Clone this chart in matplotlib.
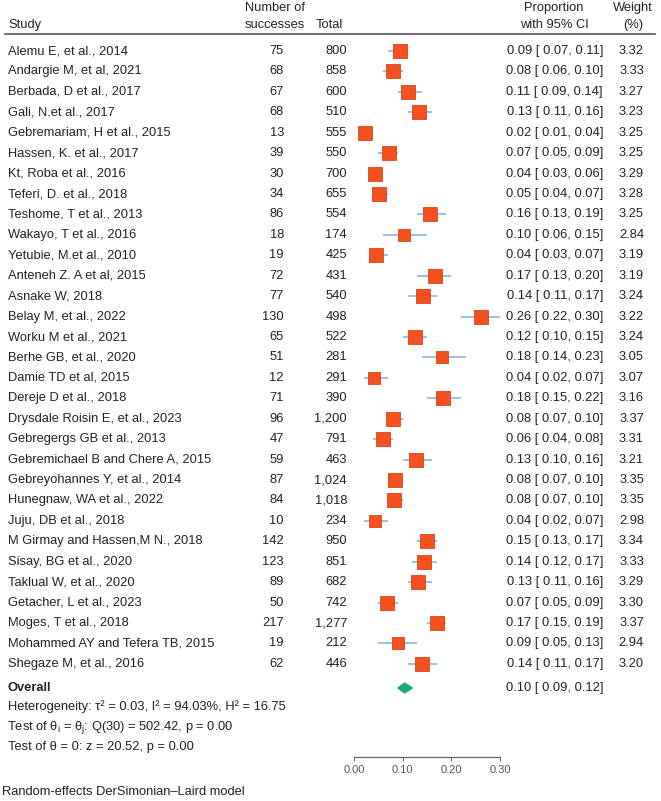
import matplotlib
matplotlib.use("Agg")
import matplotlib.pyplot as plt
import numpy as np

plt.rcParams["font.family"] = ["Liberation Sans", "DejaVu Sans"]
plt.rcParams["mathtext.fontset"] = "custom"
plt.rcParams["mathtext.rm"] = "Liberation Sans"
plt.rcParams["mathtext.it"] = "Liberation Sans"

studies = [
    "Alemu E, et al., 2014", "Andargie M, et al, 2021", "Berbada, D et al., 2017",
    "Gali, N.et al., 2017", "Gebremariam, H et al., 2015", "Hassen, K. et al., 2017",
    "Kt, Roba et al., 2016", "Teferi, D. et al., 2018", "Teshome, T et al., 2013",
    "Wakayo, T et al., 2016", "Yetubie, M.et al., 2010", "Anteneh Z. A et al, 2015",
    "Asnake W, 2018", "Belay M, et al., 2022", "Worku M et al., 2021",
    "Berhe GB, et al., 2020", "Damie TD et al, 2015", "Dereje D et al., 2018",
    "Drysdale Roisin E, et al., 2023", "Gebregergs GB et al., 2013",
    "Gebremichael B and Chere A, 2015", "Gebreyohannes Y, et al., 2014",
    "Hunegnaw, WA et al., 2022", "Juju, DB et al., 2018", "M Girmay and Hassen,M N., 2018",
    "Sisay, BG et al., 2020", "Taklual W, et al., 2020", "Getacher, L et al., 2023",
    "Moges, T et al., 2018", "Mohammed AY and Tefera TB, 2015", "Shegaze M, et al., 2016",
]
successes = [75, 68, 67, 68, 13, 39, 30, 34, 86, 18, 19, 72, 77, 130, 65, 51, 12, 71,
             96, 47, 59, 87, 84, 10, 142, 123, 89, 50, 217, 19, 62]
totals = [800, 858, 600, 510, 555, 550, 700, 655, 554, 174, 425, 431, 540, 498, 522, 281,
          291, 390, 1200, 791, 463, 1024, 1018, 234, 950, 851, 682, 742, 1277, 212, 446]
prop = [0.09, 0.08, 0.11, 0.13, 0.02, 0.07, 0.04, 0.05, 0.16, 0.10, 0.04, 0.17, 0.14, 0.26,
        0.12, 0.18, 0.04, 0.18, 0.08, 0.06, 0.13, 0.08, 0.08, 0.04, 0.15, 0.14, 0.13, 0.07,
        0.17, 0.09, 0.14]
ci_lo = [0.07, 0.06, 0.09, 0.11, 0.01, 0.05, 0.03, 0.04, 0.13, 0.06, 0.03, 0.13, 0.11, 0.22,
         0.10, 0.14, 0.02, 0.15, 0.07, 0.04, 0.10, 0.07, 0.07, 0.02, 0.13, 0.12, 0.11, 0.05,
         0.15, 0.05, 0.11]
ci_hi = [0.11, 0.10, 0.14, 0.16, 0.04, 0.09, 0.06, 0.07, 0.19, 0.15, 0.07, 0.20, 0.17, 0.30,
         0.15, 0.23, 0.07, 0.22, 0.10, 0.08, 0.16, 0.10, 0.10, 0.07, 0.17, 0.17, 0.16, 0.09,
         0.19, 0.13, 0.17]
weights = [3.32, 3.33, 3.27, 3.23, 3.25, 3.25, 3.29, 3.28, 3.25, 2.84, 3.19, 3.19, 3.24, 3.22,
           3.24, 3.05, 3.07, 3.16, 3.37, 3.31, 3.21, 3.35, 3.35, 2.98, 3.34, 3.33, 3.29, 3.30,
           3.37, 2.94, 3.20]
overall = (0.10, 0.09, 0.12)
overall_point = 0.104
het_text = "Heterogeneity: τ² = 0.03, I² = 94.03%, H² = 16.75"
q_text = r"Test of θ$_{\mathrm{i}}$ = θ$_{\mathrm{j}}$: Q(30) = 502.42, p = 0.00"
z_text = "Test of θ = 0: z = 20.52, p = 0.00"
model_text = "Random-effects DerSimonian–Laird model"
ticks = [0.00, 0.10, 0.20, 0.30]

SQ_COLOR = "#F4511E"
SQ_EDGE = "#D9441A"
CI_COLOR = "#7FAEDB"
DIA_COLOR = "#1AAB78"
TXT = "#222222"
FS = 9.3

W, H = 661, 801
Y0, PITCH = 51, 20.43
rows_y = Y0 + PITCH * np.arange(len(studies))
y_overall = 688

fig = plt.figure(figsize=(W / 100, H / 100), dpi=100)
tab = fig.add_axes([0, 0, 1, 1])
tab.set_xlim(0, W)
tab.set_ylim(H, 0)
tab.axis("off")

# header
tab.text(8, 25, "Study", fontsize=FS, color=TXT, va="center")
tab.text(275, 8, "Number of", fontsize=FS, color=TXT, va="center", ha="center")
tab.text(275, 25, "successes", fontsize=FS, color=TXT, va="center", ha="center")
tab.text(316, 25, "Total", fontsize=FS, color=TXT, va="center")
tab.text(554, 8, "Proportion", fontsize=FS, color=TXT, va="center", ha="center")
tab.text(554, 25, "with 95% CI", fontsize=FS, color=TXT, va="center", ha="center")
tab.text(633, 8, "Weight", fontsize=FS, color=TXT, va="center", ha="center")
tab.text(633, 25, "(%)", fontsize=FS, color=TXT, va="center", ha="center")
tab.plot([5, 655], [33.5, 33.5], color="#555555", lw=1.2)

for y, s, k, n, p, lo, hi, w in zip(rows_y, studies, successes, totals, prop, ci_lo, ci_hi, weights):
    tab.text(8, y, s, fontsize=FS, color=TXT, va="center")
    tab.text(284, y, f"{k}", fontsize=FS, color=TXT, va="center", ha="right")
    tab.text(347, y, f"{n:,}", fontsize=FS, color=TXT, va="center", ha="right")
    tab.text(603, y, f"{p:.2f} [ {lo:.2f}, {hi:.2f}]", fontsize=FS, color=TXT, va="center", ha="right")
    tab.text(644, y, f"{w:.2f}", fontsize=FS, color=TXT, va="center", ha="right")

tab.text(8, y_overall, "Overall", fontsize=FS, color=TXT, va="center", fontweight="bold")
tab.text(603, y_overall, f"{overall[0]:.2f} [ {overall[1]:.2f}, {overall[2]:.2f}]",
         fontsize=FS, color=TXT, va="center", ha="right")
tab.text(8, 707, het_text, fontsize=FS, color=TXT, va="center")
tab.text(7, 727, q_text, fontsize=FS, color=TXT, va="center")
tab.text(8, 747, z_text, fontsize=FS, color=TXT, va="center")
tab.text(2, 792, model_text, fontsize=FS, color=TXT, va="center")

# forest panel
ax = fig.add_axes([354 / W, (H - 757) / H, 146 / W, (757 - 33) / H])
ax.set_xlim(0, 0.30)
ax.set_ylim(757, 33)
ax.patch.set_alpha(0)
for side in ["top", "right", "left"]:
    ax.spines[side].set_visible(False)
ax.spines["bottom"].set_color("#666666")
ax.spines["bottom"].set_linewidth(0.9)
ax.set_yticks([])
ax.set_xticks(ticks)
ax.set_xticklabels([f"{t:.2f}" for t in ticks])
ax.tick_params(axis="x", direction="out", length=3, width=0.8, color="#666666",
               labelsize=8, labelcolor="#555555", pad=3)

pts = np.array(successes) / np.array(totals)
ax.hlines(rows_y, ci_lo, ci_hi, color=CI_COLOR, lw=1.1, zorder=2, clip_on=False)
for y, x, w in zip(rows_y, pts, weights):
    ax.plot(x, y, marker="s", markersize=9.6 * np.sqrt(w / 3.3), color=SQ_COLOR,
            markeredgecolor=SQ_EDGE, markeredgewidth=0.6, zorder=3, clip_on=False)

dx = [overall[1], overall_point, overall[2], overall_point]
dy = [y_overall, y_overall - 5, y_overall, y_overall + 5]
ax.fill(dx, dy, color=DIA_COLOR, zorder=3, clip_on=False)

fig.savefig("out.png", dpi=100)
